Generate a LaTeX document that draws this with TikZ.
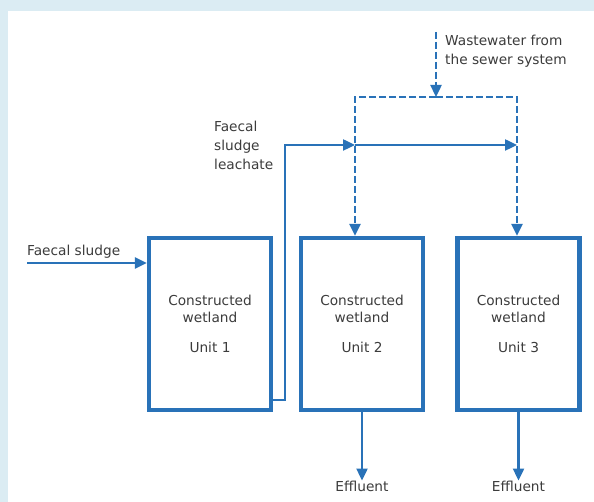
\documentclass[tikz,border=0pt]{standalone}
\usepackage{fontspec}
\setmainfont{DejaVu Sans}
\usetikzlibrary{arrows.meta}
\definecolor{flowblue}{RGB}{41,114,184}
\definecolor{panelblue}{RGB}{219,236,243}
\definecolor{labelgray}{RGB}{60,60,60}
\tikzset{
  unitbox/.style={draw=flowblue, line width=4.2pt, minimum width=122pt, minimum height=172pt,
    align=center, text=labelgray, font=\fontsize{13.7}{17}\selectfont},
  flow/.style={draw=flowblue, line width=2.4pt, -{Triangle[length=12pt,width=11pt]}},
  dashflow/.style={flow, dash pattern=on 7pt off 3pt},
  lbl/.style={text=labelgray, font=\fontsize{13.7}{19}\selectfont, inner sep=0pt},
}
\begin{document}
\begin{tikzpicture}[x=1pt,y=-1pt]
      \fill[panelblue] (0,0) rectangle (594,502);
      \fill[white] (8,11) rectangle (594,502);
      %%%%%%%%%%%%%%%%%%%%%%%%%%%%%%%%%%%%%%%%%%%%%%%
      \node[unitbox] at (210,324) (u1) {Constructed\\wetland\\[13pt]Unit 1};
      \node[unitbox] at (362,324) (u2) {Constructed\\wetland\\[13pt]Unit 2};
      \node[unitbox] at (518.5,324) (u3) {Constructed\\wetland\\[13pt]Unit 3};
      %%%%%%%%%%%%%%%%%%%%%%%%%%%%%%%%%%%%%%%%%%%%%%%
      \node[lbl, anchor=west] at (27,252) (fs) {Faecal sludge};
      \node[lbl, anchor=north west, align=left] at (214,121) (fsl) {Faecal\\sludge\\leachate};
      \node[lbl, anchor=north west, align=left] at (445,35) (ww) {Wastewater from\\the sewer system};
      \node[lbl] at (362,486) (eff2) {Effluent};
      \node[lbl] at (518.5,486) (eff3) {Effluent};
      %%%%%%%%%%%%%%%%%%%%%%%%%%%%%%%%%%%%%%%%%%%%%%%
      \coordinate (fsin) at (27,263);
      \coordinate (lout) at (272,400);
      \coordinate (lbot) at (285,400);
      \coordinate (ltop) at (285,145);
      \coordinate (j2) at (355,145);
      \coordinate (j3) at (517,145);
      \coordinate (wwin) at (436,32);
      \coordinate (wwj) at (436,97);
      \coordinate (d2) at (355,97);
      \coordinate (d3) at (517,97);
      %%%%%%%%%%%%%%%%%%%%%%%%%%%%%%%%%%%%%%%%%%%%%%%
      \draw[flow] (fsin) -- (fsin -| u1.west);
      \draw[flow] (lout) -- (lbot) -- (ltop) -- (j2);
      \draw[flow] (j2) -- (j3);
      \draw[dashflow] (wwin) -- (wwj);
      \draw[dashflow] (wwj) -- (d2) -- (d2 |- u2.north);
      \draw[dashflow] (wwj) -- (d3) -- (d3 |- u3.north);
      \draw[flow] (u2.south) -- (eff2.north);
      \draw[flow] (u3.south) -- (eff3.north);
\end{tikzpicture}
\end{document}
